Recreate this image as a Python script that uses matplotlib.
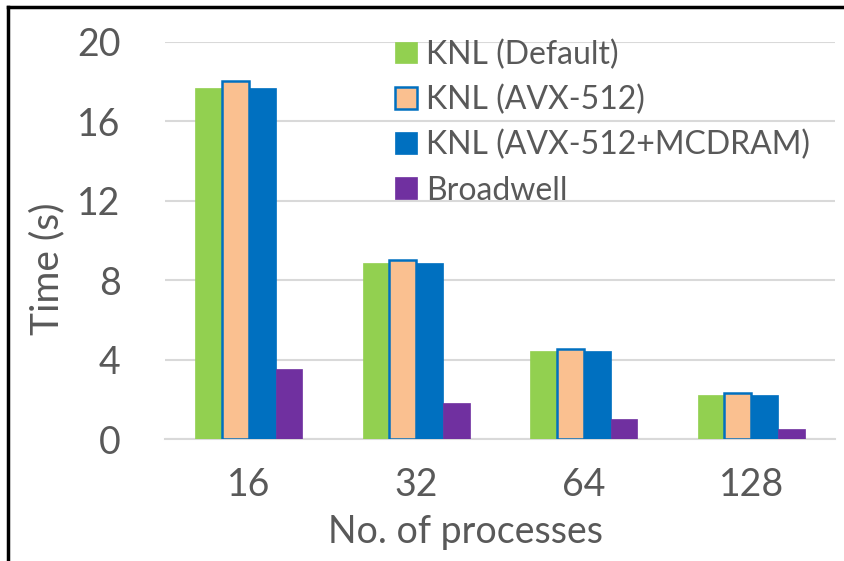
import matplotlib
matplotlib.use("Agg")
import matplotlib.pyplot as plt
import numpy as np
from matplotlib.lines import Line2D

categories = ["16", "32", "64", "128"]
series_names = ["KNL (Default)", "KNL (AVX-512)", "KNL (AVX-512+MCDRAM)", "Broadwell"]
knl_default = [17.68, 8.85, 4.43, 2.20]
knl_avx512 = [18.05, 9.02, 4.53, 2.30]
knl_avx512_mcdram = [17.67, 8.85, 4.43, 2.20]
broadwell = [3.51, 1.80, 1.00, 0.52]
yticks = [0, 4, 8, 12, 16, 20]

colors = ["#92D050", "#FAC090", "#0070C0", "#7030A0"]
edges = ["#92D050", "#0070C0", "#0070C0", "#7030A0"]
values = [knl_default, knl_avx512, knl_avx512_mcdram, broadwell]

plt.rcParams['font.family'] = ['Lato', 'DejaVu Sans']
txt = "#595959"

fig = plt.figure(figsize=(8.45, 5.61), dpi=100)
ax = fig.add_axes([165/845, 1-439/561, 670/845, 397/561])

x = np.arange(len(categories))
w = 0.16
for i, (vals, c, e, name) in enumerate(zip(values, colors, edges, series_names)):
    lw = 1.8 if i == 1 else 0.5
    ax.bar(x + (i - 1.5) * w, vals, w, color=c, edgecolor=e, linewidth=lw, label=name, zorder=3)

ax.set_xlim(-0.5, 3.5)
ax.set_ylim(0, 20)
ax.set_yticks(yticks)
ax.set_xticks(x)
ax.set_xticklabels(categories)
ax.yaxis.grid(True, color="#D9D9D9", linewidth=1.5, zorder=0)
ax.set_axisbelow(True)
for s in ["top", "right", "left"]:
    ax.spines[s].set_visible(False)
ax.spines["bottom"].set_color("#D9D9D9")
ax.spines["bottom"].set_linewidth(1.5)
ax.tick_params(axis="both", length=0, labelsize=27, colors=txt)
ax.tick_params(axis="y", pad=32)
ax.tick_params(axis="x", pad=20)

ax.set_ylabel("Time (s)", fontsize=28, color=txt)
ax.yaxis.label.set_va("center")
ax.yaxis.set_label_coords((47-165)/670, (439-269)/397)
ax.set_xlabel("No. of processes", fontsize=27, color=txt)
ax.xaxis.label.set_va("baseline")
ax.xaxis.set_label_coords((466-165)/670, (439-543)/397)

leg = ax.legend(loc="upper left", bbox_to_anchor=((395-165)/670, 1.007), frameon=False,
                fontsize=23, labelcolor=txt, handlelength=0.68, handleheight=0.68,
                handletextpad=0.3, labelspacing=0.47, borderaxespad=0, borderpad=0)

fig.add_artist(Line2D([8/845, 1], [1-7/561, 1-7/561], color="black", linewidth=2.5, transform=fig.transFigure))
fig.add_artist(Line2D([8/845, 8/845], [0, 1-7/561], color="black", linewidth=2.5, transform=fig.transFigure))

fig.savefig("out.png", dpi=100)
